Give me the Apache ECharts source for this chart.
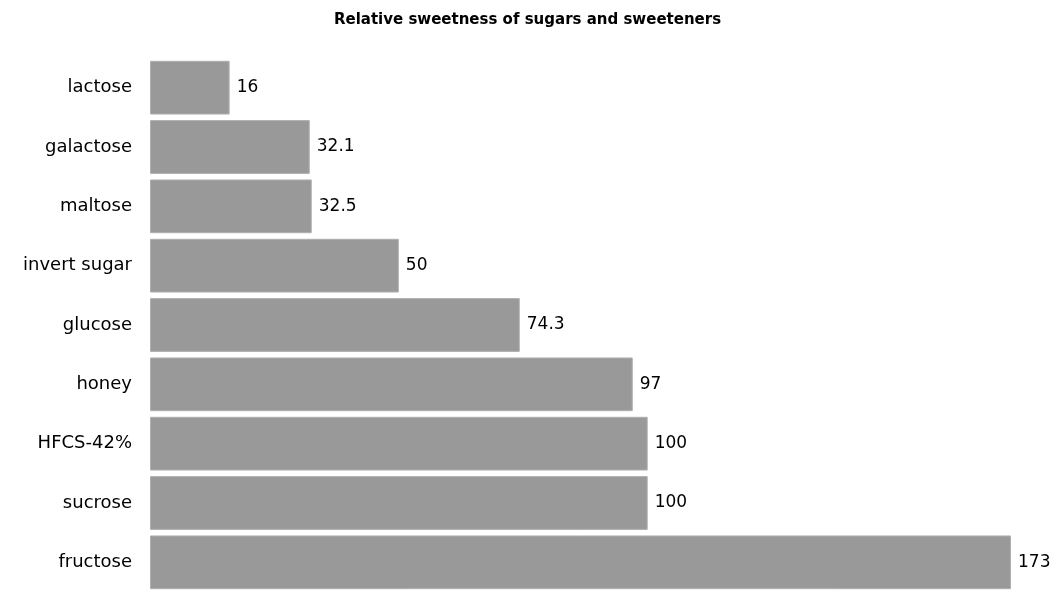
<!DOCTYPE html>
<html><head><meta charset="utf-8">
<script src="https://cdn.jsdelivr.net/npm/echarts@6/dist/echarts.min.js"></script>
<style>html,body{margin:0;padding:0;background:#fff}#c{width:1055px;height:592px}</style>
</head><body><div id="c"></div>
<script>
const titleText = 'Relative sweetness of sugars and sweeteners';
const categories = ['lactose','galactose','maltose','invert sugar','glucose','honey','HFCS-42%','sucrose','fructose'];
const values = [16, 32.1, 32.5, 50, 74.3, 97, 100, 100, 173];
const labels = ['16','32.1','32.5','50','74.3','97','100','100','173'];

const chart = echarts.init(document.getElementById('c'));
chart.setOption({
  animation: false,
  title: { text: titleText, left: 'center', top: 8,
    textStyle: { fontFamily: 'DejaVu Sans', fontSize: 15, fontWeight: 'bold', color: '#000' } },
  grid: { left: 150, right: 44, top: 58, bottom: -3, containLabel: false },
  xAxis: { type: 'value', min: 0, max: 173, show: false },
  yAxis: { type: 'category', data: categories, inverse: true,
    axisLine: { show: false }, axisTick: { show: false },
    axisLabel: { margin: 18, fontFamily: 'DejaVu Sans', fontSize: 18, color: '#000' } },
  series: [{
    type: 'bar', data: values, barCategoryGap: '9.4%',
    itemStyle: { color: '#999999', borderColor: '#b0b0b0', borderWidth: 1 },
    label: { show: true, position: 'right', distance: 7,
      formatter: p => labels[p.dataIndex],
      fontFamily: 'DejaVu Sans', fontSize: 17, color: '#000' }
  }]
});
</script></body></html>
